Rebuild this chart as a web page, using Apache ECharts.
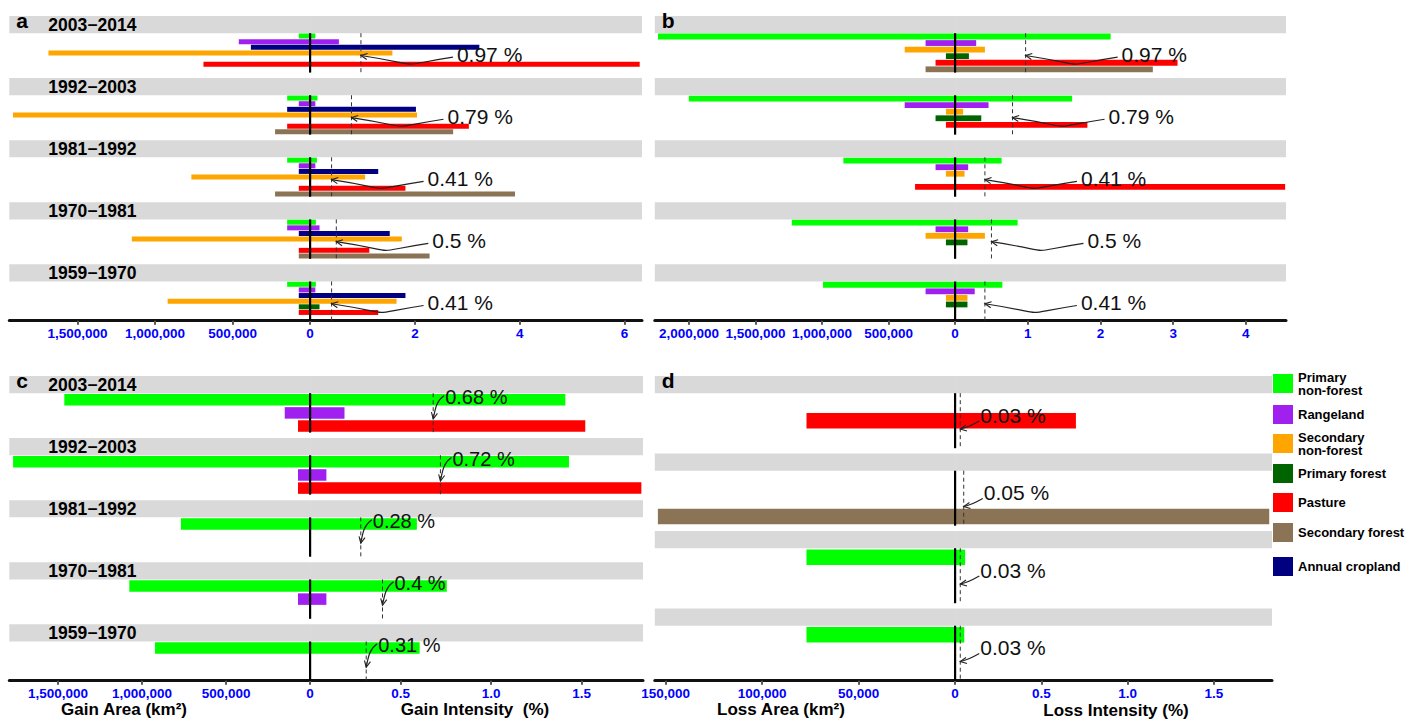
<!DOCTYPE html>
<html><head><meta charset="utf-8">
<script src="https://cdn.jsdelivr.net/npm/echarts@6/dist/echarts.min.js"></script>
<style>html,body{margin:0;padding:0;background:#fff}#c{width:1421px;height:722px}</style>
</head><body><div id="c"></div>
<script>
// ================= DATA =================
const periods  = ["2003−2014","1992−2003","1981−1992","1970−1981","1959−1970"];
const periodsD = ["2003−2014","1992−2003","1981−1992","1970−1981"];

const legendClasses = ["Primary non-forest","Rangeland","Secondary non-forest","Primary forest","Pasture","Secondary forest","Annual cropland"];
const legendColors  = ["#00FF00","#A020F0","#FFA500","#006400","#FF0000","#8B7355","#000080"];

// Panel a (rows: classes, columns: periods)
const aClasses = ["Primary non-forest","Rangeland","Annual cropland","Secondary non-forest","Primary forest","Pasture","Secondary forest"];
const aArea = [
  [73000, 148000, 148000, 148000, 148000],
  [460000, 73000, 73000, 148000, 73000],
  [382000, 148000, 73000, 73000, 73000],
  [1688000, 1917000, 766000, 1150000, 919000],
  [null, null, null, null, 73000],
  [688000, 148000, 73000, 73000, 73000],
  [null, 226000, 226000, 73000, null]
];
const aIntensity = [
  [0.10, 0.14, 0.13, 0.11, 0.11],
  [0.55, 0.10, 0.10, 0.18, 0.10],
  [3.23, 2.02, 1.30, 1.52, 1.82],
  [1.57, 2.04, 1.05, 1.75, 1.65],
  [null, null, null, null, 0.18],
  [6.29, 3.03, 1.82, 1.13, 1.30],
  [null, 2.73, 3.91, 2.28, null]
];
const aUniform = [0.97, 0.79, 0.41, 0.5, 0.41];
const aAreaTicks = [0, 500000, 1000000, 1500000];
const aIntensityTicks = [2, 4, 6];

// Panel b
const bClasses = ["Primary non-forest","Rangeland","Secondary non-forest","Primary forest","Pasture","Secondary forest"];
const bArea = [
  [2234000, 2002000, 840000, 1228000, 993000],
  [222000, 379000, 147000, 147000, 222000],
  [379000, 69000, 69000, 222000, 69000],
  [69000, 147000, null, 69000, 69000],
  [147000, 69000, 301000, null, null],
  [222000, null, null, null, null]
];
const bIntensity = [
  [2.14, 1.61, 0.64, 0.86, 0.65],
  [0.29, 0.46, 0.18, 0.18, 0.27],
  [0.41, 0.11, 0.13, 0.41, 0.17],
  [0.19, 0.36, null, 0.17, 0.17],
  [3.06, 1.82, 4.54, null, null],
  [2.72, null, null, null, null]
];
const bUniform = [0.97, 0.79, 0.41, 0.5, 0.41];
const bAreaTicks = [0, 500000, 1000000, 1500000, 2000000];
const bIntensityTicks = [1, 2, 3, 4];

// Panel c (gain)
const cClasses = ["Primary non-forest","Rangeland","Pasture"];
const cArea = [
  [1463000, 1768000, 769000, 1076000, 923000],
  [151000, 72000, null, 72000, null],
  [72000, 72000, null, null, null]
];
const cIntensity = [
  [1.41, 1.43, 0.59, 0.755, 0.605],
  [0.19, 0.09, null, 0.09, null],
  [1.52, 1.83, null, null, null]
];
const cUniform = [0.68, 0.72, 0.28, 0.4, 0.31];
const cAreaTicks = [0, 500000, 1000000, 1500000];
const cIntensityTicks = [0.5, 1.0, 1.5];

// Panel d (loss)
const dClasses = ["Primary non-forest","Pasture","Secondary forest"];
const dArea = [
  [null, null, 77000, 77000],
  [77000, null, null, null],
  [null, 154000, null, null]
];
const dIntensity = [
  [null, null, 0.058, 0.053],
  [0.70, null, null, null],
  [null, 1.82, null, null]
];
const dUniform = [0.03, 0.05, 0.03, 0.03];
const dAreaTicks = [0, 50000, 100000, 150000];
const dIntensityTicks = [0.5, 1.0, 1.5];

// ================= LAYOUT =================
const FONT = '"Liberation Sans", Arial, Helvetica, sans-serif';
const panels = [
  {letter:'a', periods, showPeriods:true, classes:aClasses, area:aArea, inten:aIntensity, uniform:aUniform,
   areaTicks:aAreaTicks, intenTicks:aIntensityTicks, dec:0,
   left:9.3, center:310.1, right:642, top:16, height:304.7, areaMax:1940645, intenMax:6.334,
   P:62.07, S:17.2, R:39.4, thick:5, arrow:'side', fs:21},
  {letter:'b', periods, showPeriods:false, classes:bClasses, area:bArea, inten:bIntensity, uniform:bUniform,
   areaTicks:bAreaTicks, intenTicks:bIntensityTicks, dec:0,
   left:654.8, center:955.1, right:1286, top:16, height:304.7, areaMax:2257895, intenMax:4.552,
   P:62.07, S:17.2, R:39.4, thick:5.8, arrow:'side', fs:21},
  {letter:'c', periods, showPeriods:true, classes:cClasses, area:cArea, inten:cIntensity, uniform:cUniform,
   areaTicks:cAreaTicks, intenTicks:cIntensityTicks, dec:1,
   left:9.3, center:310.1, right:643, top:376, height:304.7, areaMax:1790476, intenMax:1.839,
   P:62.07, S:17.2, R:39.4, thick:11.5, arrow:'up', fs:20},
  {letter:'d', periods:periodsD, showPeriods:false, classes:dClasses, area:dArea, inten:dIntensity, uniform:dUniform,
   areaTicks:dAreaTicks, intenTicks:dIntensityTicks, dec:1,
   left:654.8, center:955.1, right:1272, top:376, height:304.7, areaMax:155596, intenMax:1.836,
   P:77.5, S:17.2, R:55, thick:15.5, arrow:'low', fs:21}
];
const legendIconTops = [374, 405, 434, 464, 493, 523, 557];

function fmtComma(v){ return String(Math.round(v)).replace(/\B(?=(\d{3})+(?!\d))/g, ','); }

const grid = [], xAxis = [], yAxis = [], series = [];

function arrowHead(hx, hy, fx, fy){
  const ang = Math.atan2(fy - hy, fx - hx), L = 7, a = 0.45;
  return {type:'polyline', shape:{points:[[hx + L*Math.cos(ang+a), hy + L*Math.sin(ang+a)], [hx, hy], [hx + L*Math.cos(ang-a), hy + L*Math.sin(ang-a)]]},
          style:{stroke:'#222', fill:'none', lineWidth:1.1}};
}

panels.forEach((p, pi) => {
  const gL = pi*2, gR = pi*2 + 1;
  grid.push({left:p.left, top:p.top, width:p.center - p.left, height:p.height, containLabel:false});
  grid.push({left:p.center, top:p.top, width:p.right - p.center, height:p.height, containLabel:false});
  const axisCommon = {
    type:'value', splitLine:{show:false},
    axisLine:{show:true, onZero:false, lineStyle:{color:'#111', width:3}},
    axisTick:{show:true, length:4, lineStyle:{color:'#555', width:2}},
    axisLabel:{color:'#0000FF', fontWeight:'bold', fontSize:13.5, fontFamily:FONT, margin:6}
  };
  xAxis.push(Object.assign({}, axisCommon, {gridIndex:gL, inverse:true, min:0, max:p.areaMax,
    axisTick:Object.assign({}, axisCommon.axisTick, {customValues:p.areaTicks}),
    axisLabel:Object.assign({}, axisCommon.axisLabel, {customValues:p.areaTicks, formatter:v => fmtComma(v)})}));
  xAxis.push(Object.assign({}, axisCommon, {gridIndex:gR, min:0, max:p.intenMax,
    axisTick:Object.assign({}, axisCommon.axisTick, {customValues:p.intenTicks}),
    axisLabel:Object.assign({}, axisCommon.axisLabel, {customValues:p.intenTicks, formatter:v => v.toFixed(p.dec)})}));
  yAxis.push({gridIndex:gL, type:'value', min:0, max:p.height, inverse:true, show:false});
  yAxis.push({gridIndex:gR, type:'value', min:0, max:p.height, inverse:true, show:false});

  const blocks = p.periods.map((n, k) => [0, k]);

  // gray strips + period labels + panel letter (left half)
  series.push({type:'custom', xAxisIndex:gL, yAxisIndex:gL, z:1, silent:true, data:blocks, encode:{x:0, y:1},
    renderItem:(params, api) => {
      const k = api.value(1), bt = k * p.P;
      const a0 = api.coord([p.areaMax, bt]), a1 = api.coord([0, bt + p.S]);
      const ch = [{type:'rect', shape:{x:a0[0], y:a0[1], width:a1[0] - a0[0], height:a1[1] - a0[1]}, style:{fill:'#D9D9D9'}}];
      if (p.showPeriods) ch.push({type:'text', style:{text:p.periods[k], x:a0[0] + 39, y:(a0[1] + a1[1]) / 2 + 0.5,
        font:'bold 17.5px ' + FONT, fill:'#000', align:'left', verticalAlign:'middle', textAlign:'left', textVerticalAlign:'middle'}});
      if (k === 0) ch.push({type:'text', style:{text:p.letter, x:a0[0] + 7, y:a0[1] + 4,
        font:'bold 21px ' + FONT, fill:'#000', align:'left', verticalAlign:'middle', textAlign:'left', textVerticalAlign:'middle'}});
      return {type:'group', children:ch};
    }});
  // gray strips (right half)
  series.push({type:'custom', xAxisIndex:gR, yAxisIndex:gR, z:1, silent:true, data:blocks, encode:{x:0, y:1},
    renderItem:(params, api) => {
      const k = api.value(1), bt = k * p.P;
      const a0 = api.coord([0, bt]), a1 = api.coord([p.intenMax, bt + p.S]);
      return {type:'rect', shape:{x:a0[0], y:a0[1], width:a1[0] - a0[0], height:a1[1] - a0[1]}, style:{fill:'#D9D9D9'}};
    }});

  // bars
  const n = p.classes.length;
  p.classes.forEach((cls, ci) => {
    const color = legendColors[legendClasses.indexOf(cls)];
    const mk = (vals, gi) => ({
      type:'custom', name:cls, xAxisIndex:gi, yAxisIndex:gi, z:2, itemStyle:{color}, encode:{x:0, y:1},
      data: vals.map((v, k) => v == null ? null : [v, k]).filter(Boolean),
      renderItem:(params, api) => {
        const v = api.value(0), k = api.value(1);
        const y = k * p.P + p.S + (ci + 0.5) * p.R / n;
        const p0 = api.coord([0, y]), p1 = api.coord([v, y]);
        const h = api.size([0, p.thick])[1];
        return {type:'rect', shape:{x:Math.min(p0[0], p1[0]), y:p0[1] - h/2, width:Math.abs(p1[0] - p0[0]), height:h}, style:{fill:color}};
      }
    });
    series.push(mk(p.area[ci], gL));
    series.push(mk(p.inten[ci], gR));
  });

  // overlay: center line, uniform intensity dashed line, arrow, label
  series.push({type:'custom', xAxisIndex:gR, yAxisIndex:gR, z:3, silent:true, encode:{x:0, y:1},
    data: p.uniform.map((u, k) => [u, k]),
    renderItem:(params, api) => {
      const u = api.value(0), k = api.value(1), bt = k * p.P;
      const c0 = api.coord([0, bt + p.S]), c1 = api.coord([0, bt + p.S + p.R]);
      const d0 = api.coord([u, bt + p.S]), d1 = api.coord([u, bt + p.S + p.R]);
      const xd = d0[0], top = api.coord([0, bt])[1];
      const ch = [
        {type:'line', shape:{x1:c0[0], y1:c0[1], x2:c1[0], y2:c1[1]}, style:{stroke:'#000', lineWidth:2.2}},
        {type:'line', shape:{x1:xd, y1:d0[1], x2:xd, y2:d1[1]}, style:{stroke:'#333', lineWidth:1, lineDash:[4, 3]}}
      ];
      let hx, hy, tx, ty, c1x, c1y, c2x, c2y, lx, ly;
      if (p.arrow === 'side') {
        hx = xd; hy = top + p.S + 22.3; tx = xd + 92; ty = top + p.S + 24;
        c1x = xd + 28; c1y = top + p.S + 34; c2x = xd + 70; c2y = top + p.S + 33;
        lx = xd + 96; ly = top + p.S + 21;
      } else if (p.arrow === 'up') {
        hx = xd; hy = top + 43; tx = xd + 11; ty = top + 19.5;
        c1x = xd + 3; c1y = top + 25; c2x = xd + 2; c2y = top + 33;
        lx = xd + 12; ly = top + 21;
      } else {
        hx = xd; hy = top + 53; tx = xd + 19; ty = top + 45;
        c1x = xd + 12; c1y = top + 49; c2x = xd + 6; c2y = top + 52;
        lx = xd + 20; ly = top + 39;
      }
      ch.push({type:'bezierCurve', shape:{x1:tx, y1:ty, x2:hx, y2:hy, cpx1:c1x, cpy1:c1y, cpx2:c2x, cpy2:c2y},
               style:{stroke:'#222', fill:'none', lineWidth:1.2}});
      ch.push(arrowHead(hx, hy, c2x, c2y));
      ch.push({type:'text', style:{text:u + ' %', x:lx, y:ly, font:p.fs + 'px ' + FONT, fill:'#111',
               align:'left', verticalAlign:'middle', textAlign:'left', textVerticalAlign:'middle'}});
      return {type:'group', children:ch};
    }});
});

// one legend block per class so that each square sits where the reference has it
const legend = legendClasses.map((name, i) => {
  const twoLines = name.indexOf(' non-forest') >= 0;
  const itemH = twoLines ? 26 : 19;
  return {
    data:[name], orient:'vertical', left:1273, top:legendIconTops[i] - (itemH - 19) / 2, padding:0,
    itemWidth:20, itemHeight:19, icon:'rect', selectedMode:false,
    formatter:nm => nm.replace(' non-forest', '\nnon-forest'),
    textStyle:{fontFamily:FONT, fontWeight:'bold', fontSize:13, color:'#000', lineHeight:13}
  };
});

const titleStyle = (text, x, y) => ({type:'text', x, y, style:{text, font:'bold 17px ' + FONT, fill:'#000',
  align:'center', verticalAlign:'middle', textAlign:'center', textVerticalAlign:'middle'}});

const option = {
  animation:false,
  backgroundColor:'#fff',
  grid, xAxis, yAxis, series, legend,
  graphic:[
    titleStyle('Gain Area (km²)', 124, 709),
    titleStyle('Gain Intensity  (%)', 475, 709),
    titleStyle('Loss Area (km²)', 781, 709),
    titleStyle('Loss Intensity (%)', 1116, 710)
  ]
};

const chart = echarts.init(document.getElementById('c'), null, {renderer:'svg'});
chart.setOption(option);
</script>
</body></html>
